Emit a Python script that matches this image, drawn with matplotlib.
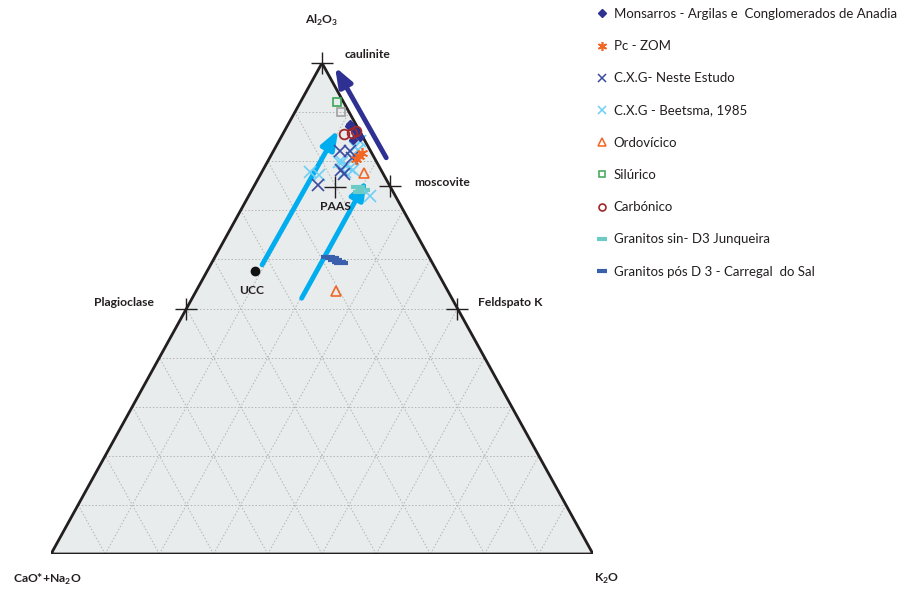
import matplotlib
matplotlib.use("Agg")
import matplotlib.pyplot as plt
import numpy as np
from matplotlib.lines import Line2D

plt.rcParams['font.family'] = ['Lato', 'DejaVu Sans']
plt.rcParams['mathtext.fontset'] = 'custom'
plt.rcParams['mathtext.rm'] = 'Lato'
plt.rcParams['mathtext.bf'] = 'Lato:bold'

# Ternary A-CN-K data, values in %: A = Al2O3, K = K2O, CN = CaO*+Na2O (remainder)
monsarros_A = [87.6, 87.0, 86.6, 86.1, 85.5, 84.9, 84.3, 87.1]
monsarros_K = [11.4, 12.0, 12.6, 13.2, 13.8, 14.5, 13.6, 11.4]

pczom_A = [80.4, 81.1, 81.7]
pczom_K = [16.1, 16.3, 16.6]

cxg_neste_A = [75.2, 82.1, 82.1, 80.7, 78.2, 77.4]
cxg_neste_K = [11.7, 12.3, 14.1, 15.1, 14.4, 15.4]

cxg_beetsma_A = [77.8, 77.2, 79.8, 79.0, 78.6, 77.8, 78.2, 82.9, 84.1, 82.3, 72.9, 79.9]
cxg_beetsma_K = [8.9, 10.8, 13.8, 14.9, 15.9, 15.3, 16.6, 14.7, 14.9, 15.5, 22.4, 13.1]

ordovicico_A = [77.6, 53.6]
ordovicico_K = [18.9, 25.8]

silurico_A = [92.1]
silurico_K = [6.7]

outro_A = [90.0]          # grey square, not in legend
outro_K = [8.5]

carbonico_A = [85.5, 85.7, 86.1]
carbonico_K = [11.3, 12.7, 13.2]

gran_sin_A = [74.7, 74.1, 73.7]
gran_sin_K = [19.2, 20.5, 20.1]

gran_pos_A = [60.5, 60.3, 59.9, 59.5, 59.3]
gran_pos_K = [20.9, 21.7, 22.5, 23.3, 23.9]

# reference compositions
ref_names = ["caulinite", "moscovite", "Plagioclase", "Feldspato K", "PAAS"]
ref_A = [100, 75, 50, 50, 74.7]
ref_K = [0, 25, 0, 50, 15.0]
ucc_A, ucc_K = 57.6, 8.8

# trend arrows (tail -> head)
arrow_tail_A = [80.7, 58.9, 52.1]
arrow_tail_K = [21.5, 9.5, 20.2]
arrow_head_A = [99.2, 86.4, 76.2]
arrow_head_K = [2.8, 9.8, 20.2]
arrow_colors = ["#2e3192", "#00aeef", "#00aeef"]

labels = ["Monsarros - Argilas e  Conglomerados de Anadia", "Pc - ZOM",
          "C.X.G- Neste Estudo", "C.X.G - Beetsma, 1985", "Ordovícico",
          "Silúrico", "Carbónico", "Granitos sin- D3 Junqueira",
          "Granitos pós D 3 - Carregal  do Sal"]


def tern(A, K):
    A = np.asarray(A, float) / 100
    K = np.asarray(K, float) / 100
    return K + A / 2, A


fig = plt.figure(figsize=(9.02, 5.89), dpi=100)
ax = fig.add_axes([51 / 902, 35 / 589, 542 / 902, 491 / 589])
ax.set_xlim(0, 1)
ax.set_ylim(0, 1)
ax.axis("off")

# triangle fill and grid
ax.fill([0, 1, 0.5, 0], [0, 0, 1, 0], color="#e9ecec", zorder=0)
for t in np.arange(0.1, 1.0, 0.1):
    kw = dict(color="#b4b4b4", lw=0.7, ls=(0, (1.5, 2)), zorder=1)
    ax.plot([t / 2, 1 - t / 2], [t, t], **kw)                 # constant A
    ax.plot([t, t + (1 - t) / 2], [0, 1 - t], **kw)            # constant K
    ax.plot([t, t / 2], [0, t], **kw)                          # constant CN
ax.plot([0, 1, 0.5, 0], [0, 0, 1, 0], color="#231f20", lw=2, zorder=2,
        solid_joinstyle="miter")

# arrows
for ta, tk, ha, hk, c in zip(arrow_tail_A, arrow_tail_K, arrow_head_A, arrow_head_K, arrow_colors):
    x0, y0 = tern(ta, tk)
    x1, y1 = tern(ha, hk)
    ax.annotate("", xy=(x1, y1), xytext=(x0, y0), zorder=3,
                arrowprops=dict(arrowstyle="-|>,head_length=0.8,head_width=0.3",
                                lw=3.5, color=c, shrinkA=0, shrinkB=0,
                                mutation_scale=14))

# data series
ms = 8
x, y = tern(gran_pos_A, gran_pos_K)
ax.plot(x, y, ls="none", marker="_", ms=10, mew=3, color="#3a5fad", zorder=4)
x, y = tern(gran_sin_A, gran_sin_K)
ax.plot(x, y, ls="none", marker="_", ms=10, mew=3, color="#6ccbc4", zorder=4)
x, y = tern(cxg_beetsma_A, cxg_beetsma_K)
ax.plot(x, y, ls="none", marker="x", ms=ms, mew=1.2, color="#6dcff6", zorder=4)
x, y = tern(cxg_neste_A, cxg_neste_K)
ax.plot(x, y, ls="none", marker="x", ms=ms, mew=1.2, color="#3b4ba0", zorder=4)
x, y = tern(monsarros_A, monsarros_K)
ax.plot(x, y, ls="none", marker="D", ms=4.5, color="#2e3192", zorder=5)
x, y = tern(pczom_A, pczom_K)
ax.plot(x, y, ls="none", marker=(6, 2, 0), ms=ms, mew=1.2, color="#f26522", zorder=5)
x, y = tern(ordovicico_A, ordovicico_K)
ax.plot(x, y, ls="none", marker="^", ms=7, mfc="none", mew=1.2, color="#f26522", zorder=5)
x, y = tern(silurico_A, silurico_K)
ax.plot(x, y, ls="none", marker="s", ms=6, mfc="none", mew=1.2, color="#3aa655", zorder=5)
x, y = tern(outro_A, outro_K)
ax.plot(x, y, ls="none", marker="s", ms=6, mfc="none", mew=1.2, color="#a0a0a0", zorder=5)
x, y = tern(carbonico_A, carbonico_K)
ax.plot(x, y, ls="none", marker="o", ms=7, mfc="none", mew=1.3, color="#a0282a", zorder=5)

# reference points
rx, ry = tern(ref_A, ref_K)
ax.plot(rx, ry, ls="none", marker="+", ms=16, mew=1, color="#231f20", zorder=6, clip_on=False)
ux, uy = tern(ucc_A, ucc_K)
ax.plot([ux], [uy], ls="none", marker="o", ms=6, color="#111111", zorder=6)

lab = dict(fontsize=8.7, fontweight="bold", color="#231f20", textcoords="offset pixels",
           va="center", annotation_clip=False)
offsets = [(23, 8, "left"), (25, 3, "left"), (-32, 6, "right"), (21, 6, "left"), (1, -19, "center")]
for name, px, py, (dx, dy, ha) in zip(ref_names, rx, ry, offsets):
    ax.annotate(name, (px, py), xytext=(dx, dy), ha=ha, **lab)
ax.annotate("UCC", (ux, uy), xytext=(-3, -19), ha="center", **lab)
ax.annotate(r"Al$_\mathbf{2}$O$_\mathbf{3}$", (0.5, 1), xytext=(0, 43), ha="center", **lab)
ax.annotate(r"CaO*+Na$_\mathbf{2}$O", (0, 0), xytext=(-4, -25), ha="center", **lab)
ax.annotate(r"K$_\mathbf{2}$O", (1, 0), xytext=(14, -25), ha="center", **lab)

# legend
handles = [
    Line2D([], [], ls="none", marker="D", ms=4.5, color="#2e3192"),
    Line2D([], [], ls="none", marker=(6, 2, 0), ms=6.5, mew=1.2, color="#f26522"),
    Line2D([], [], ls="none", marker="x", ms=6, mew=1.1, color="#3b4ba0"),
    Line2D([], [], ls="none", marker="x", ms=6, mew=1.1, color="#6dcff6"),
    Line2D([], [], ls="none", marker="^", ms=6, mfc="none", mew=1.1, color="#f26522"),
    Line2D([], [], ls="none", marker="s", ms=5, mfc="none", mew=1.1, color="#3aa655"),
    Line2D([], [], ls="none", marker="o", ms=5, mfc="none", mew=1.2, color="#a0282a"),
    Line2D([], [], ls="none", marker="_", ms=7, mew=3, color="#6ccbc4"),
    Line2D([], [], ls="none", marker="_", ms=7, mew=3, color="#3a5fad"),
]
fig.legend(handles, labels, loc="upper left", bbox_to_anchor=(598 / 902, 1 - 8 / 589),
           frameon=False, fontsize=9.5, labelspacing=1.53, handlelength=0.6,
           handletextpad=0.6, borderpad=0, borderaxespad=0, labelcolor="#231f20")

fig.savefig("out.png", dpi=100)
